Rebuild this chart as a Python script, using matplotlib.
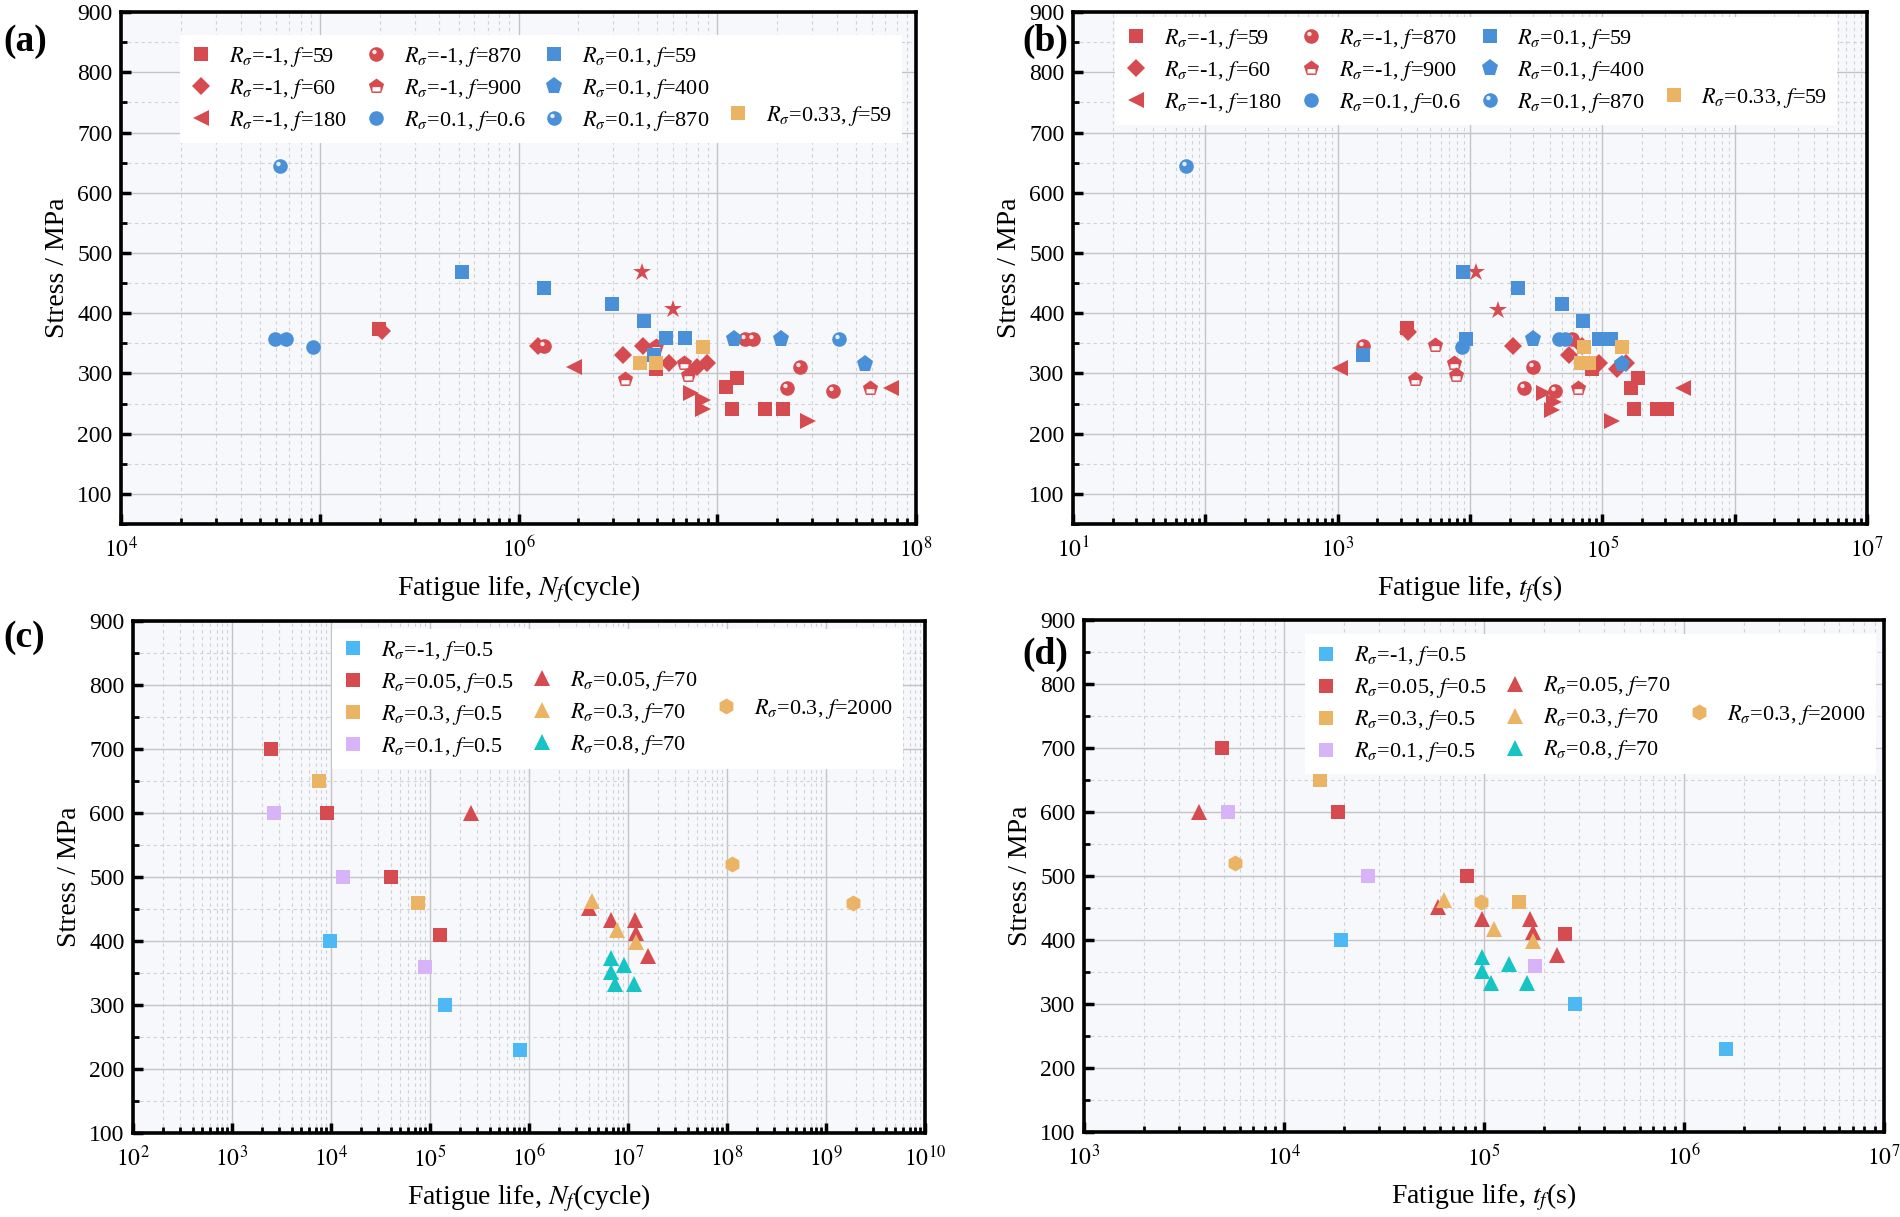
import numpy as np
import matplotlib
matplotlib.use("Agg")
import matplotlib.pyplot as plt
from matplotlib.path import Path
from matplotlib.lines import Line2D
from matplotlib.ticker import FixedLocator, LogLocator, FuncFormatter, MultipleLocator, NullFormatter

plt.rcParams['font.family'] = 'Liberation Serif'
plt.rcParams['mathtext.fontset'] = 'stix'

# ---------------- data: panel (a), fatigue life in cycles ----------------
a_m1_f59_x = [1.98e5, 4.9e6, 1.11e7, 1.26e7, 1.19e7, 1.74e7, 2.13e7]
a_m1_f59_y = [374, 308, 277, 293, 241, 241, 241]
a_m1_f60_x = [2.05e5, 1.26e6, 3.37e6, 4.25e6, 5.69e6, 7.87e6, 8.9e6]
a_m1_f60_y = [371, 345, 331, 346, 317, 311, 317]
a_m1_f180_x = [1.9e6, 7.5e7]
a_m1_f180_y = [311, 276]
a_m1_f870_x = [1.34e6, 1.38e7, 1.52e7, 2.6e7, 2.25e7, 3.83e7]
a_m1_f870_y = [345, 358, 358, 311, 276, 271]
a_m1_f900_x = [3.43e6, 4.9e6, 6.82e6, 7.14e6, 5.9e7]
a_m1_f900_y = [290, 346, 318, 297, 276]
a_01_f06_x = [5.98e4, 6.8e4, 9.2e4]
a_01_f06_y = [358, 358, 344]
a_01_f59_x = [5.2e5, 1.35e6, 2.96e6, 4.28e6, 5.52e6, 6.89e6, 4.82e6]
a_01_f59_y = [468, 442, 415, 387, 359, 359, 331]
a_01_f400_x = [1.22e7, 2.1e7, 5.52e7]
a_01_f400_y = [358, 358, 315]
a_01_f870_x = [6.3e4, 4.1e7]
a_01_f870_y = [645, 358]
a_033_f59_x = [4.09e6, 4.9e6, 8.43e6]
a_033_f59_y = [317, 317, 344]
a_star_x = [4.17e6, 5.98e6]
a_star_y = [468, 407]
a_right_x = [7.35e6, 8.5e6, 8.5e6, 2.86e7]
a_right_y = [268, 256, 241, 221]

# ---------------- data: panel (b), fatigue life in seconds ----------------
b_m1_f59_x = [3.34e3, 8.4e4, 1.66e5, 1.86e5, 1.75e5, 2.57e5, 3.1e5]
b_m1_f59_y = [375, 308, 276, 293, 241, 241, 241]
b_m1_f60_x = [3.4e3, 2.1e4, 5.6e4, 7.0e4, 9.5e4, 1.29e5, 1.5e5]
b_m1_f60_y = [369, 345, 331, 345, 317, 308, 317]
b_m1_f180_x = [1.05e3, 4.1e5]
b_m1_f180_y = [309, 276]
b_m1_f870_x = [1.55e3, 3.0e4, 2.57e4, 4.43e4, 5.9e4]
b_m1_f870_y = [346, 310, 276, 271, 358]
b_m1_f900_x = [5.4e3, 3.83e3, 7.6e3, 7.9e3, 6.6e4]
b_m1_f900_y = [347, 291, 318, 297, 276]
b_01_f06_x = [8.65e3, 4.7e4, 5.25e4]
b_01_f06_y = [344, 358, 358]
b_01_f59_x = [1.55e3, 8.8e3, 2.29e4, 4.97e4, 7.2e4, 9.4e3, 9.4e4, 1.17e5]
b_01_f59_y = [331, 468, 442, 415, 387, 358, 358, 358]
b_01_f400_x = [3.02e4, 1.4e5]
b_01_f400_y = [358, 315]
b_01_f870_x = [72]
b_01_f870_y = [645]
b_033_f59_x = [7.3e4, 1.42e5, 6.9e4, 8.0e4]
b_033_f59_y = [344, 344, 317, 317]
b_star_x = [1.12e4, 1.63e4]
b_star_y = [468, 406]
b_right_x = [3.6e4, 4.3e4, 4.2e4, 1.19e5]
b_right_y = [267, 253, 239, 221]

# ---------------- data: panel (c), cycles ----------------
c_m1_f05_x = [9.7e3, 1.43e5, 8.1e5]
c_m1_f05_y = [400, 300, 230]
c_005_f05_x = [2.46e3, 9.2e3, 4.07e4, 1.27e5]
c_005_f05_y = [700, 600, 500, 410]
c_03_f05_x = [7.6e3, 7.5e4]
c_03_f05_y = [650, 460]
c_01_f05_x = [2.63e3, 1.31e4, 8.9e4]
c_01_f05_y = [600, 500, 360]
c_005_f70_x = [2.57e5, 4.07e6, 6.7e6, 1.17e7, 1.21e7, 1.6e7]
c_005_f70_y = [600, 451, 433, 433, 412, 377]
c_03_f70_x = [4.37e6, 7.7e6, 1.21e7]
c_03_f70_y = [462, 418, 398]
c_08_f70_x = [6.7e6, 9.2e6, 6.7e6, 7.45e6, 1.14e7]
c_08_f70_y = [373, 363, 352, 333, 333]
c_03_f2000_x = [1.12e8, 1.87e9]
c_03_f2000_y = [520, 460]

# ---------------- data: panel (d), seconds ----------------
d_m1_f05_x = [1.94e4, 2.85e5, 1.63e6]
d_m1_f05_y = [400, 300, 230]
d_005_f05_x = [4.89e3, 1.87e4, 8.2e4, 2.54e5]
d_005_f05_y = [700, 600, 500, 410]
d_03_f05_x = [1.51e4, 1.5e5]
d_03_f05_y = [650, 460]
d_01_f05_x = [5.25e3, 2.64e4, 1.8e5]
d_01_f05_y = [600, 500, 360]
d_005_f70_x = [3.74e3, 5.88e4, 9.8e4, 1.7e5, 1.75e5, 2.32e5]
d_005_f70_y = [600, 451, 433, 433, 412, 377]
d_03_f70_x = [6.3e4, 1.12e5, 1.75e5]
d_03_f70_y = [462, 418, 398]
d_08_f70_x = [9.8e4, 1.34e5, 9.8e4, 1.09e5, 1.64e5]
d_08_f70_y = [373, 363, 352, 333, 333]
d_03_f2000_x = [5.7e3, 9.7e4]
d_03_f2000_y = [520, 460]

RED = '#D64B50'
BLUE = '#4A90D9'
ORANGE = '#EBB465'
LBLUE = '#4CB9F5'
PURPLE = '#D7B3F7'
CYAN = '#17C4C4'
FACE = '#F6F8FC'


def house_marker():
    ang = np.deg2rad([90, 162, 234, 306, 18])
    outer = list(zip(np.cos(ang), np.sin(ang)))
    inner = [(-0.5, -0.08), (0.5, -0.08), (0.5, -0.62), (-0.5, -0.62)]
    verts = outer + [outer[0]] + inner + [inner[0]]
    codes = [Path.MOVETO] + [Path.LINETO] * 4 + [Path.CLOSEPOLY] + \
            [Path.MOVETO] + [Path.LINETO] * 3 + [Path.CLOSEPOLY]
    return Path(verts, codes)


def highlight_marker():
    t = np.linspace(0, 2 * np.pi, 30)
    circ = list(zip(-0.28 + 0.3 * np.cos(t), 0.34 + 0.3 * np.sin(t)))
    verts = [(1, 1)] + circ
    codes = [Path.MOVETO, Path.MOVETO] + [Path.LINETO] * (len(circ) - 1)
    return Path(verts, codes)


HOUSE = house_marker()
HILITE = highlight_marker()
MS = 9.5


def pts(ax, x, y, color, marker, ms=MS):
    h, = ax.plot(x, y, linestyle='none', marker=marker, color=color,
                 markersize=ms, markeredgewidth=0, zorder=3)
    return h


def sphere(ax, x, y, color, ms=MS + 1):
    h1, = ax.plot(x, y, linestyle='none', marker='o', color=color,
                  markersize=ms, markeredgewidth=0, zorder=3)
    h2, = ax.plot(x, y, linestyle='none', marker=HILITE, color='white',
                  alpha=0.85, markersize=ms, markeredgewidth=0, zorder=3)
    return (h1, h2)


def blank():
    return Line2D([], [], linestyle='none', marker=None, alpha=0)


def style_axes(ax, xlo, xhi, ylo, labeled, xlabel):
    ax.set_xscale('log')
    ax.set_xlim(10.0 ** xlo, 10.0 ** xhi)
    ax.set_ylim(ylo, 900)
    ax.set_facecolor(FACE)
    decades = [10.0 ** k for k in range(xlo, xhi + 1)]
    ax.xaxis.set_major_locator(FixedLocator(decades))
    ax.xaxis.set_minor_locator(LogLocator(base=10, subs=np.arange(2, 10), numticks=50))
    ax.xaxis.set_major_formatter(FuncFormatter(
        lambda v, p: r'$10^{%d}$' % round(np.log10(v)) if round(np.log10(v)) in labeled else ''))
    ax.xaxis.set_minor_formatter(NullFormatter())
    ax.yaxis.set_major_locator(FixedLocator(list(range(100, 901, 100))))
    ax.yaxis.set_minor_locator(MultipleLocator(50))
    ax.tick_params(axis='both', which='major', direction='in', length=7, width=2.5,
                   labelsize=17, top=False, right=False)
    ax.tick_params(axis='both', which='minor', direction='in', length=4, width=2,
                   top=False, right=False)
    ax.tick_params(axis='x', which='major', pad=9)
    ax.tick_params(axis='y', which='major', pad=6)
    ax.grid(True, which='major', color='#C4C4C8', linewidth=1.0, linestyle='-', zorder=0)
    ax.grid(True, which='minor', color='#D2D2D6', linewidth=0.8, linestyle=(0, (3, 3)), zorder=0)
    ax.set_axisbelow(True)
    for s in ax.spines.values():
        s.set_linewidth(2.6)
    ax.set_xlabel(xlabel, fontsize=20, labelpad=8)
    ax.set_ylabel('Stress / MPa', fontsize=20, labelpad=5)


LEG_KW = dict(frameon=True, fancybox=False, framealpha=1, edgecolor='none',
              facecolor='white', fontsize=16, handlelength=1.0, handletextpad=0.75,
              columnspacing=0.8, labelspacing=0.36, borderpad=0.45, borderaxespad=0)


def top_panel(ax, d, xlo, xhi, labeled, xlabel, leg_anchor):
    h_m1_59 = pts(ax, d['m1_f59'][0], d['m1_f59'][1], RED, 's')
    h_m1_60 = pts(ax, d['m1_f60'][0], d['m1_f60'][1], RED, 'D', MS)
    h_m1_180 = pts(ax, d['m1_f180'][0], d['m1_f180'][1], RED, '<', MS + 2)
    pts(ax, d['right'][0], d['right'][1], RED, '>', MS + 2)
    pts(ax, d['star'][0], d['star'][1], RED, '*', MS + 4)
    h_m1_870 = sphere(ax, d['m1_f870'][0], d['m1_f870'][1], RED)
    h_m1_900 = pts(ax, d['m1_f900'][0], d['m1_f900'][1], RED, HOUSE, MS + 2)
    h_01_06 = pts(ax, d['01_f06'][0], d['01_f06'][1], BLUE, 'o', MS + 1)
    h_01_59 = pts(ax, d['01_f59'][0], d['01_f59'][1], BLUE, 's')
    h_01_400 = pts(ax, d['01_f400'][0], d['01_f400'][1], BLUE, 'p', MS + 3)
    h_01_870 = sphere(ax, d['01_f870'][0], d['01_f870'][1], BLUE)
    h_033_59 = pts(ax, d['033_f59'][0], d['033_f59'][1], ORANGE, 's')
    style_axes(ax, xlo, xhi, 50, labeled, xlabel)
    handles = [h_m1_59, h_m1_60, h_m1_180,
               h_m1_870, h_m1_900, h_01_06,
               h_01_59, h_01_400, h_01_870,
               blank(), blank(), h_033_59]
    labels = [r'$R_{\sigma}$=-1, $f$=59', r'$R_{\sigma}$=-1, $f$=60', r'$R_{\sigma}$=-1, $f$=180',
              r'$R_{\sigma}$=-1, $f$=870', r'$R_{\sigma}$=-1, $f$=900', r'$R_{\sigma}$=0.1, $f$=0.6',
              r'$R_{\sigma}$=0.1, $f$=59', r'$R_{\sigma}$=0.1, $f$=400', r'$R_{\sigma}$=0.1, $f$=870',
              ' ', ' ', r'$R_{\sigma}$=0.33, $f$=59']
    leg = ax.legend(handles, labels, ncol=4, loc='upper left', bbox_to_anchor=leg_anchor, **LEG_KW)
    leg.set_zorder(5)


def bottom_panel(ax, d, xlo, xhi, xlabel, leg_anchor):
    h1 = pts(ax, d['m1_f05'][0], d['m1_f05'][1], LBLUE, 's')
    h2 = pts(ax, d['005_f05'][0], d['005_f05'][1], RED, 's')
    h3 = pts(ax, d['03_f05'][0], d['03_f05'][1], ORANGE, 's')
    h4 = pts(ax, d['01_f05'][0], d['01_f05'][1], PURPLE, 's')
    h5 = pts(ax, d['005_f70'][0], d['005_f70'][1], RED, '^', MS + 2)
    h6 = pts(ax, d['03_f70'][0], d['03_f70'][1], ORANGE, '^', MS + 2)
    h7 = pts(ax, d['08_f70'][0], d['08_f70'][1], CYAN, '^', MS + 2)
    h8 = pts(ax, d['03_f2000'][0], d['03_f2000'][1], ORANGE, 'h', MS + 2)
    style_axes(ax, xlo, xhi, 100, list(range(xlo, xhi + 1)), xlabel)
    handles = [h1, h2, h3, h4, blank(), h5, h6, h7, blank(), blank(), h8, blank()]
    labels = [r'$R_{\sigma}$=-1, $f$=0.5', r'$R_{\sigma}$=0.05, $f$=0.5',
              r'$R_{\sigma}$=0.3, $f$=0.5', r'$R_{\sigma}$=0.1, $f$=0.5',
              ' ', r'$R_{\sigma}$=0.05, $f$=70', r'$R_{\sigma}$=0.3, $f$=70', r'$R_{\sigma}$=0.8, $f$=70',
              ' ', ' ', r'$R_{\sigma}$=0.3, $f$=2000', ' ']
    leg = ax.legend(handles, labels, ncol=3, loc='upper left', bbox_to_anchor=leg_anchor, **LEG_KW)
    leg.set_zorder(5)


fig = plt.figure(figsize=(19, 12.17), dpi=100)
ax_a = fig.add_axes([0.0637, 0.5694, 0.4184, 0.4207])
ax_b = fig.add_axes([0.5647, 0.5694, 0.4179, 0.4207])
ax_c = fig.add_axes([0.0700, 0.0690, 0.4168, 0.4207])
ax_d = fig.add_axes([0.5705, 0.0698, 0.4210, 0.4207])

data_a = {'m1_f59': (a_m1_f59_x, a_m1_f59_y), 'm1_f60': (a_m1_f60_x, a_m1_f60_y),
          'm1_f180': (a_m1_f180_x, a_m1_f180_y), 'm1_f870': (a_m1_f870_x, a_m1_f870_y),
          'm1_f900': (a_m1_f900_x, a_m1_f900_y), '01_f06': (a_01_f06_x, a_01_f06_y),
          '01_f59': (a_01_f59_x, a_01_f59_y), '01_f400': (a_01_f400_x, a_01_f400_y),
          '01_f870': (a_01_f870_x, a_01_f870_y), '033_f59': (a_033_f59_x, a_033_f59_y),
          'star': (a_star_x, a_star_y), 'right': (a_right_x, a_right_y)}
data_b = {'m1_f59': (b_m1_f59_x, b_m1_f59_y), 'm1_f60': (b_m1_f60_x, b_m1_f60_y),
          'm1_f180': (b_m1_f180_x, b_m1_f180_y), 'm1_f870': (b_m1_f870_x, b_m1_f870_y),
          'm1_f900': (b_m1_f900_x, b_m1_f900_y), '01_f06': (b_01_f06_x, b_01_f06_y),
          '01_f59': (b_01_f59_x, b_01_f59_y), '01_f400': (b_01_f400_x, b_01_f400_y),
          '01_f870': (b_01_f870_x, b_01_f870_y), '033_f59': (b_033_f59_x, b_033_f59_y),
          'star': (b_star_x, b_star_y), 'right': (b_right_x, b_right_y)}
data_c = {'m1_f05': (c_m1_f05_x, c_m1_f05_y), '005_f05': (c_005_f05_x, c_005_f05_y),
          '03_f05': (c_03_f05_x, c_03_f05_y), '01_f05': (c_01_f05_x, c_01_f05_y),
          '005_f70': (c_005_f70_x, c_005_f70_y), '03_f70': (c_03_f70_x, c_03_f70_y),
          '08_f70': (c_08_f70_x, c_08_f70_y), '03_f2000': (c_03_f2000_x, c_03_f2000_y)}
data_d = {'m1_f05': (d_m1_f05_x, d_m1_f05_y), '005_f05': (d_005_f05_x, d_005_f05_y),
          '03_f05': (d_03_f05_x, d_03_f05_y), '01_f05': (d_01_f05_x, d_01_f05_y),
          '005_f70': (d_005_f70_x, d_005_f70_y), '03_f70': (d_03_f70_x, d_03_f70_y),
          '08_f70': (d_08_f70_x, d_08_f70_y), '03_f2000': (d_03_f2000_x, d_03_f2000_y)}

top_panel(ax_a, data_a, 4, 8, [4, 6, 8], r'Fatigue life, $N_f$(cycle)', (0.074, 0.955))
top_panel(ax_b, data_b, 1, 7, [1, 3, 5, 7], r'Fatigue life, $t_f$(s)', (0.053, 0.99))
bottom_panel(ax_c, data_c, 2, 10, r'Fatigue life, $N_f$(cycle)', (0.251, 0.985))
bottom_panel(ax_d, data_d, 3, 7, r'Fatigue life, $t_f$(s)', (0.276, 0.972))

for lab, x, y in [('(a)', 0.002, 0.966), ('(b)', 0.538, 0.966),
                  ('(c)', 0.002, 0.476), ('(d)', 0.538, 0.462)]:
    fig.text(x, y, lab, fontsize=27, fontweight='bold', va='center', ha='left')

fig.savefig('out.png', dpi=100, facecolor='white')
